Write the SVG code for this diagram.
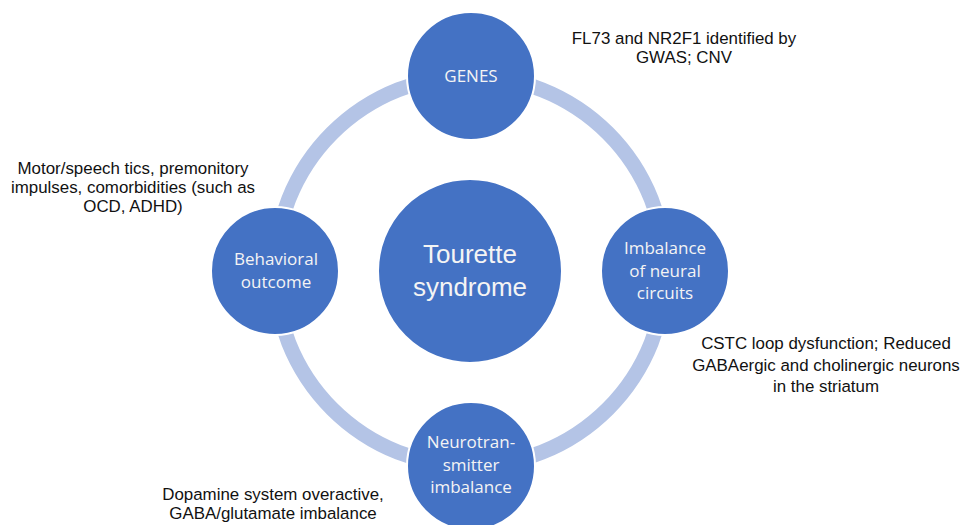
<svg xmlns="http://www.w3.org/2000/svg" width="964" height="525" viewBox="0 0 964 525">
<style>
.node{fill:#4472c4;stroke:#ffffff;stroke-width:2}
.lbl{font-family:"Open Sans","Noto Sans",sans-serif;font-size:17px;fill:#f4f4f4;text-anchor:middle}
.big{font-family:"Liberation Sans",Arial,sans-serif;font-size:26px;fill:#f4f4f4;text-anchor:middle}
.ann{font-family:"Liberation Sans",Arial,sans-serif;font-size:16.9px;fill:#111111;text-anchor:middle}
.ring{fill:none;stroke:#b4c4e6;stroke-width:15}
</style>
<rect width="964" height="525" fill="#ffffff"/>
<g id="connectors">
<circle class="ring" cx="470" cy="271" r="195"/>
</g>
<g id="center">
<circle class="node" cx="470" cy="271" r="92"/>
<text class="big" x="470" y="263">Tourette</text>
<text class="big" x="470" y="296">syndrome</text>
</g>
<g id="genes">
<circle class="node" cx="471" cy="76" r="64"/>
<text class="lbl" x="471" y="82">GENES</text>
</g>
<g id="behavioral">
<circle class="node" cx="275" cy="271" r="64"/>
<text class="lbl" x="276" y="265">Behavioral</text>
<text class="lbl" x="276" y="288">outcome</text>
</g>
<g id="circuits">
<circle class="node" cx="665" cy="271" r="64"/>
<text class="lbl" x="665" y="254">Imbalance</text>
<text class="lbl" x="665" y="276.5">of neural</text>
<text class="lbl" x="665" y="299">circuits</text>
</g>
<g id="neurotransmitter">
<circle class="node" cx="471" cy="466" r="64"/>
<text class="lbl" x="471" y="448">Neurotran-</text>
<text class="lbl" x="471" y="470.5">smitter</text>
<text class="lbl" x="471" y="493">imbalance</text>
</g>
<g id="ann-genes">
<text class="ann" x="684" y="44">FL73 and NR2F1 identified by</text>
<text class="ann" x="684" y="63">GWAS; CNV</text>
</g>
<g id="ann-behavioral">
<text class="ann" x="133" y="174">Motor/speech tics, premonitory</text>
<text class="ann" x="133" y="193">impulses, comorbidities (such as</text>
<text class="ann" x="133" y="212">OCD, ADHD)</text>
</g>
<g id="ann-circuits">
<text class="ann" x="826" y="349">CSTC loop dysfunction; Reduced</text>
<text class="ann" x="826" y="370.5">GABAergic and cholinergic neurons</text>
<text class="ann" x="826" y="392">in the striatum</text>
</g>
<g id="ann-neuro">
<text class="ann" x="273" y="500">Dopamine system overactive,</text>
<text class="ann" x="273" y="519">GABA/glutamate imbalance</text>
</g>
</svg>
